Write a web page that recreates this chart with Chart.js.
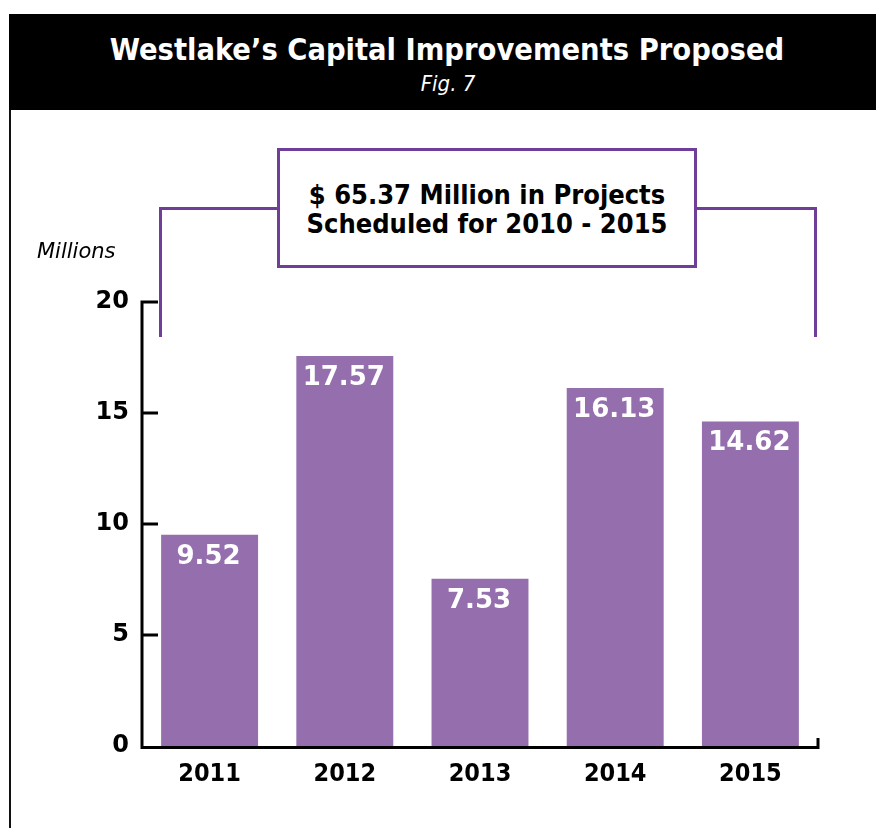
<!DOCTYPE html>
<html>
<head>
<meta charset="utf-8">
<script src="https://cdn.jsdelivr.net/npm/chart.js@4"></script>
<style>
  body { margin: 0; background: #fff; }
  #page { position: relative; width: 876px; height: 828px; overflow: hidden; background: #fff; }
  #header { position: absolute; left: 9px; top: 14px; width: 867px; height: 96px; background: #000; }
  #title { position: absolute; left: 9px; top: 30px; width: 876px; text-align: center; color: #fff;
           font: bold 30.5px/40px 'DejaVu Sans Condensed', 'DejaVu Sans'; }
  #fig { position: absolute; left: 0; top: 71px; width: 896px; text-align: center; color: #fff;
         font: oblique 22px/26px 'DejaVu Sans Condensed', 'DejaVu Sans'; }
  #frame { position: absolute; left: 9px; top: 110px; width: 2px; height: 718px; background: #111; }
  #chartBox { position: absolute; left: 0; top: 110px; width: 876px; height: 718px; }
  #units { position: absolute; left: 37px; top: 238px; font: oblique 21px/26px 'DejaVu Sans'; color: #000; }
  #bracket { position: absolute; left: 159px; top: 207px; width: 658px; height: 130px;
             border: 3px solid #6F3E98; border-bottom: none; box-sizing: border-box; }
  #callout { position: absolute; left: 277px; top: 148px; width: 420px; height: 120px;
             border: 3px solid #6F3E98; background: #fff; box-sizing: border-box; }
  #calloutText { position: absolute; left: 277px; top: 180px; width: 420px; text-align: center; color: #000;
                 font: bold 27px/29px 'DejaVu Sans Condensed', 'DejaVu Sans'; }
</style>
</head>
<body>
<div id="page">
  <div id="header"></div>
  <div id="title">Westlake’s Capital Improvements Proposed</div>
  <div id="fig">Fig. 7</div>
  <div id="frame"></div>
  <div id="chartBox"><canvas id="chart"></canvas></div>
  <div id="units">Millions</div>
  <div id="bracket"></div>
  <div id="callout"></div>
  <div id="calloutText">$ 65.37 Million in Projects<br>Scheduled for 2010 - 2015</div>
</div>
<script>
// Valores (milhões)
const years = ['2011', '2012', '2013', '2014', '2015'];
const spending = [9.52, 17.57, 7.53, 16.13, 14.62];
const yTicks = [0, 5, 10, 15, 20];

// Desenha os eixos com marcas internas
const axisLines = {
  id: 'axisLines',
  afterDraw(chart) {
    const { ctx, chartArea: a, scales: { y } } = chart;
    ctx.save();
    ctx.strokeStyle = '#000';
    ctx.lineWidth = 3;
    ctx.beginPath();
    const top = y.getPixelForValue(yTicks[yTicks.length - 1]);
    ctx.moveTo(a.left, top - 1.5);
    ctx.lineTo(a.left, a.bottom + 1.5);
    ctx.lineTo(a.right, a.bottom + 1.5);
    ctx.lineTo(a.right, a.bottom - 8);
    yTicks.filter(v => v > 0).forEach(v => {
      const py = y.getPixelForValue(v);
      ctx.moveTo(a.left, py);
      ctx.lineTo(a.left + 16, py);
    });
    ctx.stroke();
    ctx.restore();
  }
};

// Rótulos brancos dentro das barras
const barLabels = {
  id: 'barLabels',
  afterDatasetsDraw(chart) {
    const { ctx } = chart;
    ctx.save();
    ctx.fillStyle = '#fff';
    ctx.font = 'bold 26px "DejaVu Sans"';
    ctx.textAlign = 'center';
    ctx.textBaseline = 'alphabetic';
    chart.getDatasetMeta(0).data.forEach((bar, i) => {
      ctx.fillText(spending[i].toFixed(2), bar.x - 1, bar.y + 29);
    });
    ctx.restore();
  }
};

new Chart(document.getElementById('chart'), {
  type: 'bar',
  data: {
    labels: years,
    datasets: [{
      data: spending,
      backgroundColor: '#946EAD',
      barPercentage: 0.717,
      categoryPercentage: 1
    }]
  },
  options: {
    responsive: true,
    maintainAspectRatio: false,
    animation: false,
    layout: { padding: { left: 0, top: 192, right: 58, bottom: 0 } },
    plugins: { legend: { display: false }, tooltip: { enabled: false } },
    scales: {
      x: {
        grid: { display: false },
        border: { display: false },
        ticks: {
          color: '#000',
          padding: 5,
          font: { family: '"DejaVu Sans Condensed", "DejaVu Sans"', weight: 'bold', size: 25 }
        },
        afterFit(s) { s.height = 82; }
      },
      y: {
        min: 0,
        max: 20,
        grid: { display: false },
        border: { display: false },
        ticks: {
          stepSize: 5,
          color: '#000',
          padding: 5,
          font: { family: '"DejaVu Sans"', weight: 'bold', size: 24 }
        },
        afterFit(s) { s.width = 142; }
      }
    }
  },
  plugins: [axisLines, barLabels]
});
</script>
</body>
</html>
